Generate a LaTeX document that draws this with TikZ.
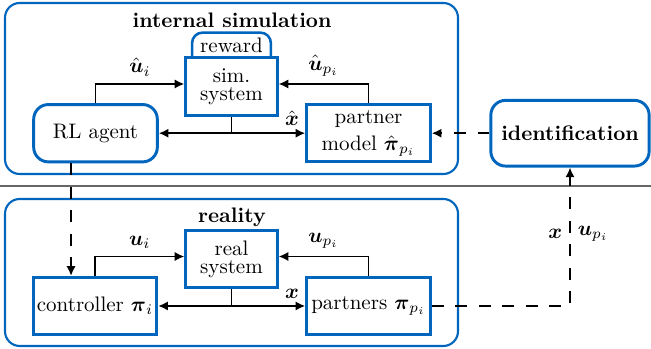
\documentclass[tikz,border=0pt]{standalone}
\usepackage{tikz}
\usetikzlibrary{shapes,arrows,arrows.meta,positioning}
\usepackage{amsmath}
\usepackage[dvipsnames]{xcolor}
\definecolor{tumblue}{RGB}{0,101,189}

\tikzset{
  blk/.style={draw=tumblue, line width=1.4pt, fill=white, text=black, align=center, inner sep=0pt, minimum width=2.07cm, minimum height=0.96cm},
  rblk/.style={blk, rounded corners=7pt},
  frame/.style={draw=tumblue, line width=1pt, rounded corners=7pt},
  sig/.style={-{Latex[length=4.6pt,width=4.4pt]}, thick},
  dsh/.style={sig, dash pattern=on 5.6pt off 5.6pt}
}

\begin{document}
\begin{tikzpicture}
\useasboundingbox (0,0) rectangle (10.898,-5.842);

% frames
\draw[frame] (0.084,-0.050) rectangle (7.667,-2.913);
\draw[frame] (0.084,-3.331) rectangle (7.667,-5.792);
\draw[gray!80!black, thick] (0,-3.114) -- (10.898,-3.114);

\node[font=\bfseries] (simtitle) at (3.884,-0.335) {internal simulation};
\node[font=\bfseries] (realtitle) at (3.884,-3.633) {reality};

% internal simulation
\node[blk, minimum width=1.53cm] (sim) at (3.875,-1.448) {sim.\\[-3.5pt]system};
\node[inner sep=0pt, minimum width=1.306cm, minimum height=0.40cm] (reward) at (3.875,-0.753) {reward};
\draw[draw=tumblue, line width=1.2pt, rounded corners=5pt] (reward.south west) -- (reward.north west) -- (reward.north east) -- (reward.south east);
\node[rblk] (agent) at (1.599,-2.23) {RL agent};
\node[blk] (model) at (6.169,-2.23) {partner\\[1pt]model $\hat{\boldsymbol{\pi}}_{p_i}$};
\node[rblk, minimum width=2.65cm, minimum height=1.10cm, font=\bfseries] (ident) at (9.542,-2.23) {identification};

\draw[sig] (agent.north) |- node[above, pos=0.75] {$\hat{\boldsymbol{u}}_i$} ([yshift=1.2pt]sim.west);
\draw[sig] (model.north) |- node[above, pos=0.75] {$\hat{\boldsymbol{u}}_{p_i}$} ([yshift=1.2pt]sim.east);
\draw[thick] (sim.south) -- (sim.south |- agent.east);
\draw[sig, {Latex[length=4.6pt,width=4.4pt]}-{Latex[length=4.6pt,width=4.4pt]}] (agent.east) -- node[above, pos=0.91] {$\hat{\boldsymbol{x}}$} (model.west);
\draw[dsh] (ident.west) -- (model.east);

% reality
\node[blk, minimum width=1.53cm] (real) at (3.875,-4.336) {real\\[-3.5pt]system};
\node[blk] (ctrl) at (1.59,-5.122) {controller $\boldsymbol{\pi}_i$};
\node[blk] (partners) at (6.169,-5.122) {partners $\boldsymbol{\pi}_{p_i}$};

\draw[sig] (ctrl.north) |- node[above, pos=0.75] {$\boldsymbol{u}_i$} ([yshift=1.2pt]real.west);
\draw[sig] (partners.north) |- node[above, pos=0.75] {$\boldsymbol{u}_{p_i}$} ([yshift=1.2pt]real.east);
\draw[thick] (real.south) -- (real.south |- ctrl.east);
\draw[sig, {Latex[length=4.6pt,width=4.4pt]}-{Latex[length=4.6pt,width=4.4pt]}] (ctrl.east) -- node[above, pos=0.91] {$\boldsymbol{x}$} (partners.west);

% links between both
\draw[dsh] ([xshift=-0.41cm]agent.south) -- ([xshift=-0.41cm]agent.south |- ctrl.north);
\draw[dsh] (partners.east) -| node[pos=0.76, left] {$\boldsymbol{x}$} node[pos=0.76, right] {$\boldsymbol{u}_{p_i}$} (ident.south);
\end{tikzpicture}
\end{document}
